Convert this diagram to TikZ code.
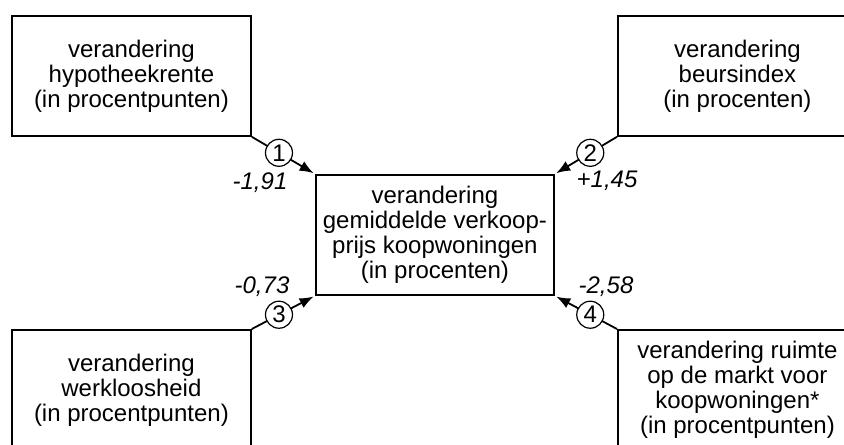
\documentclass[tikz,border=0pt]{standalone}
\usepackage{fontspec}
\setmainfont{Liberation Sans}
\usetikzlibrary{arrows.meta}

\begin{document}
\begin{tikzpicture}[x=0.5pt,y=-0.5pt,
  font=\fontsize{12}{12.5}\selectfont,
  factor/.style={draw,line width=0.9pt,anchor=north west,align=center,
    minimum width=119.5pt,minimum height=60pt,inner sep=0pt},
  effect/.style={line width=0.9pt,-{Latex[length=7pt,width=5.4pt]},shorten >=0.8pt},
  num/.style={draw,circle,fill=white,line width=0.6pt,inner sep=0pt,minimum size=13.5pt,pos=0.43},
  coef/.style={anchor=base,font=\fontsize{12}{12.5}\selectfont\itshape}]
	% frame of the picture
	\useasboundingbox (0,0) rectangle (844,444);
	\clip (0,0) rectangle (844,444);
	% centre box
	\node [factor,minimum width=119pt] (prijs) at (315,174)
	  {verandering\\gemiddelde verkoop-\\prijs koopwoningen\\(in procenten)};
	% box 1
	\node [factor] (rente) at (11,15)
	  {verandering\\hypotheekrente\\(in procentpunten)};
	% box 2
	\node [factor] (beurs) at (617,15)
	  {verandering\\beursindex\\(in procenten)};
	% box 3
	\node [factor] (werk) at (11,329)
	  {verandering\\werkloosheid\\(in procentpunten)};
	% box 4
	\node [factor] (ruimte) at (617,329)
	  {verandering ruimte\\op de markt voor\\koopwoningen*\\(in procentpunten)};
	% arrows with their numbers
	\draw [effect] (rente.south east) -- node[num] (c1) {1} (prijs.north west);
	\draw [effect] (beurs.south west) -- node[num] (c2) {2} (prijs.north east);
	\draw [effect] (werk.north east) -- node[num] (c3) {3} (prijs.south west);
	\draw [effect] (ruimte.north west) -- node[num] (c4) {4} (prijs.south east);
	% coefficients
	\node [coef] (w1) at (260,189) {-1,91};
	\node [coef] (w2) at (607,187) {+1,45};
	\node [coef] (w3) at (262,293) {-0,73};
	\node [coef] (w4) at (606,293) {-2,58};
\end{tikzpicture}
\end{document}
